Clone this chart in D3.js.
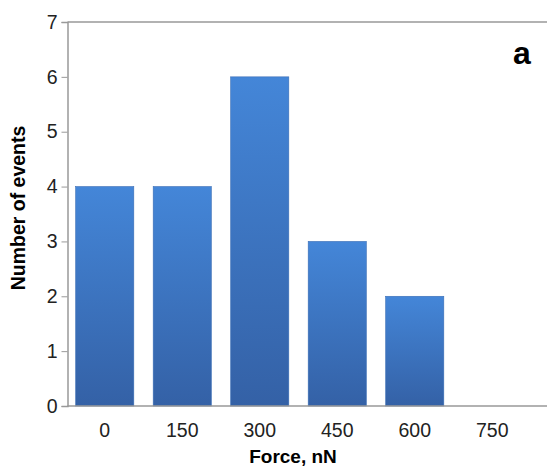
<!DOCTYPE html>
<html>
<head>
<meta charset="utf-8">
<script src="https://cdn.jsdelivr.net/npm/d3@7"></script>
<style>
  body { margin: 0; background: #fff; }
  text { font-family: "Liberation Sans", Arial, sans-serif; }
</style>
</head>
<body>
<svg class="chart"></svg>
<script>
// data
var forces = ["0", "150", "300", "450", "600", "750"];
var counts = [4, 4, 6, 3, 2, 0];
var yTicks = [0, 1, 2, 3, 4, 5, 6, 7];

var W = 547, H = 468;
var plotLeft = 67.5, plotTop = 22, plotBottom = 406;

var svg = d3.select(".chart")
    .attr("width", W)
    .attr("height", H);

var x = d3.scaleBand()
    .domain(forces)
    .range([66, 66 + 6 * 77.5])
    .paddingInner(0.25)
    .paddingOuter(0.125);

var y = d3.scaleLinear()
    .domain([0, 7])
    .range([plotBottom, plotTop]);

// bar gradient, light at top, darker at bottom
var grad = svg.append("defs").append("linearGradient")
    .attr("id", "barGrad")
    .attr("x1", 0).attr("y1", 0)
    .attr("x2", 0).attr("y2", 1);
grad.append("stop").attr("offset", "0%").attr("stop-color", "#4486d8");
grad.append("stop").attr("offset", "100%").attr("stop-color", "#3461a6");

// bars
svg.selectAll(".bar")
    .data(counts)
    .enter().append("rect")
    .attr("class", "bar")
    .attr("x", (d, i) => x(forces[i]))
    .attr("y", d => y(d))
    .attr("width", x.bandwidth())
    .attr("height", d => plotBottom - y(d))
    .attr("fill", "url(#barGrad)")
    .attr("stroke", "#3a6db5")
    .attr("stroke-width", 0.6)
    .style("display", d => d > 0 ? null : "none");

// top frame line
svg.append("line")
    .attr("x1", plotLeft).attr("x2", W)
    .attr("y1", plotTop).attr("y2", plotTop)
    .attr("stroke", "#999").attr("stroke-width", 1.5);

// y axis
var yAxis = svg.append("g")
    .attr("transform", "translate(" + plotLeft + ",0)")
    .call(d3.axisLeft(y).tickValues(yTicks).tickSize(6).tickPadding(4).tickFormat(d3.format("d")));
yAxis.select(".domain").attr("stroke", "#999").attr("stroke-width", 1.5);
yAxis.selectAll(".tick line").attr("stroke", "#999");
yAxis.selectAll(".tick text")
    .attr("font-size", "19.5px")
    .attr("fill", "#222")
    .style("font-family", "'Liberation Sans', Arial, sans-serif");

// bottom axis line
svg.append("line")
    .attr("x1", plotLeft).attr("x2", W)
    .attr("y1", plotBottom).attr("y2", plotBottom)
    .attr("stroke", "#999").attr("stroke-width", 1.5);

// x tick labels
svg.selectAll(".xlab")
    .data(forces)
    .enter().append("text")
    .attr("class", "xlab")
    .attr("x", d => x(d) + x.bandwidth() / 2)
    .attr("y", 437)
    .attr("text-anchor", "middle")
    .attr("font-size", "19.5px")
    .attr("fill", "#222")
    .text(d => d);

// axis titles
svg.append("text")
    .attr("x", 293)
    .attr("y", 463)
    .attr("text-anchor", "middle")
    .attr("font-size", "19px")
    .attr("font-weight", "bold")
    .text("Force, nN");

svg.append("text")
    .attr("transform", "translate(25,208) rotate(-90)")
    .attr("text-anchor", "middle")
    .attr("font-size", "19.5px")
    .attr("font-weight", "bold")
    .text("Number of events");

// panel letter
svg.append("text")
    .attr("x", 522)
    .attr("y", 64)
    .attr("text-anchor", "middle")
    .attr("font-size", "32px")
    .attr("font-weight", "bold")
    .text("a");
</script>
</body>
</html>
